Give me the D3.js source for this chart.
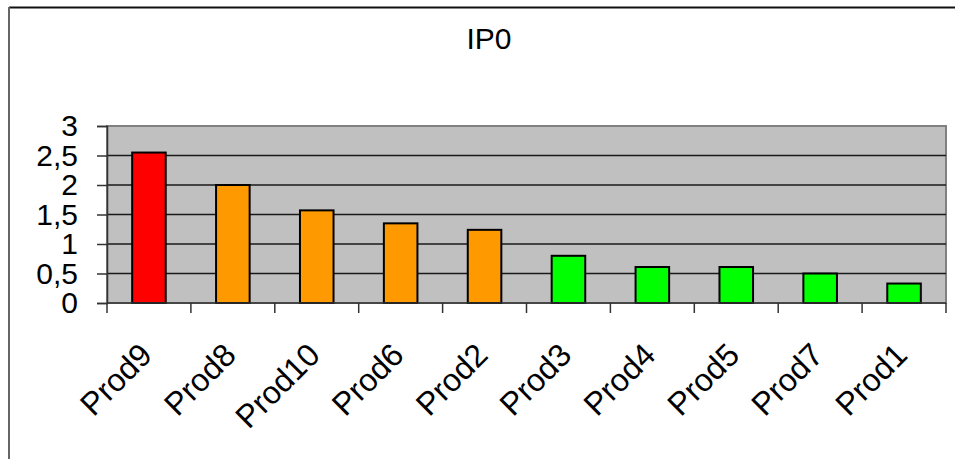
<!DOCTYPE html>
<html>
<head>
<meta charset="utf-8">
<script src="https://cdn.jsdelivr.net/npm/d3@7/dist/d3.min.js"></script>
<style>
  html, body { margin: 0; padding: 0; background: #ffffff; }
  svg { display: block; font-family: "Liberation Sans", Arial, sans-serif; }
</style>
</head>
<body>
<svg id="chart" width="955" height="459"></svg>
<script>
// Product scores for IP0, sorted descending
const categories = ["Prod9", "Prod8", "Prod10", "Prod6", "Prod2", "Prod3", "Prod4", "Prod5", "Prod7", "Prod1"];
const values = [2.55, 2.0, 1.57, 1.35, 1.24, 0.80, 0.61, 0.61, 0.50, 0.33];
const levels = ["high", "mid", "mid", "mid", "mid", "low", "low", "low", "low", "low"];
const yTicks = [0, 0.5, 1, 1.5, 2, 2.5, 3];
const title = "IP0";

const levelColor = { high: "#ff0000", mid: "#ff9900", low: "#00ff00" };

const svg = d3.select("#chart");
const W = 955, H = 459;
const plot = { left: 107, right: 946, top: 126, bottom: 303 };

// outer chart frame (top and left edges visible)
svg.append("line").attr("x1", 9).attr("x2", W).attr("y1", 7.5).attr("y2", 7.5)
  .attr("stroke", "#111").attr("stroke-width", 2);
svg.append("line").attr("x1", 9).attr("x2", 9).attr("y1", 7).attr("y2", H)
  .attr("stroke", "#666").attr("stroke-width", 2);

// title
svg.append("text").attr("x", 489).attr("y", 49).attr("text-anchor", "middle")
  .attr("font-size", 30).attr("fill", "#000").text(title);

const x = d3.scaleBand().domain(categories)
  .range([plot.left, plot.right]).paddingInner(0.6).paddingOuter(0.3);
const y = d3.scaleLinear().domain([0, 3]).range([plot.bottom, plot.top]);

const locale = d3.formatLocale({ decimal: ",", thousands: ".", grouping: [3], currency: ["", "€"] });
const fmt = locale.format(".1~f");

// plot area background
svg.append("rect").attr("x", plot.left).attr("y", plot.top)
  .attr("width", plot.right - plot.left).attr("height", plot.bottom - plot.top)
  .attr("fill", "#c0c0c0").attr("stroke", "#808080").attr("stroke-width", 2);

// horizontal gridlines
svg.append("g").selectAll("line").data(yTicks.filter(t => t > 0 && t < 3)).join("line")
  .attr("x1", plot.left).attr("x2", plot.right)
  .attr("y1", d => y(d)).attr("y2", d => y(d))
  .attr("stroke", "#1a1a1a").attr("stroke-width", 1.5);

// y axis
const yAxis = svg.append("g").attr("transform", `translate(${plot.left},0)`)
  .call(d3.axisLeft(y).tickValues(yTicks).tickFormat(fmt).tickSize(10).tickPadding(19));
yAxis.select(".domain").attr("stroke", "#333").attr("stroke-width", 1.5);
yAxis.selectAll(".tick line").attr("stroke", "#333").attr("stroke-width", 1.5);
yAxis.selectAll(".tick text").attr("font-size", 30).attr("fill", "#000")
  .attr("font-family", "'Liberation Sans', Arial, sans-serif");

// bars
svg.append("g").selectAll("rect").data(categories).join("rect")
  .attr("x", d => x(d)).attr("width", x.bandwidth())
  .attr("y", (d, i) => y(values[i])).attr("height", (d, i) => y(0) - y(values[i]))
  .attr("fill", (d, i) => levelColor[levels[i]])
  .attr("stroke", "#000").attr("stroke-width", 2);

// x axis line with ticks between categories
const step = x.step();
const boundaries = d3.range(categories.length + 1).map(i => plot.left + i * step);
const xg = svg.append("g");
xg.append("line").attr("x1", plot.left).attr("x2", plot.right)
  .attr("y1", plot.bottom).attr("y2", plot.bottom).attr("stroke", "#333").attr("stroke-width", 1.5);
xg.selectAll("line.tk").data(boundaries).join("line").attr("class", "tk")
  .attr("x1", d => d).attr("x2", d => d)
  .attr("y1", plot.bottom).attr("y2", plot.bottom + 10)
  .attr("stroke", "#333").attr("stroke-width", 1.5);

// rotated category labels
xg.selectAll("text").data(categories).join("text")
  .attr("transform", d => `translate(${x(d) + x.bandwidth() / 2 + 5},${plot.bottom + 54}) rotate(-45)`)
  .attr("text-anchor", "end").attr("font-size", 32).attr("fill", "#000")
  .text(d => d);
</script>
</body>
</html>
